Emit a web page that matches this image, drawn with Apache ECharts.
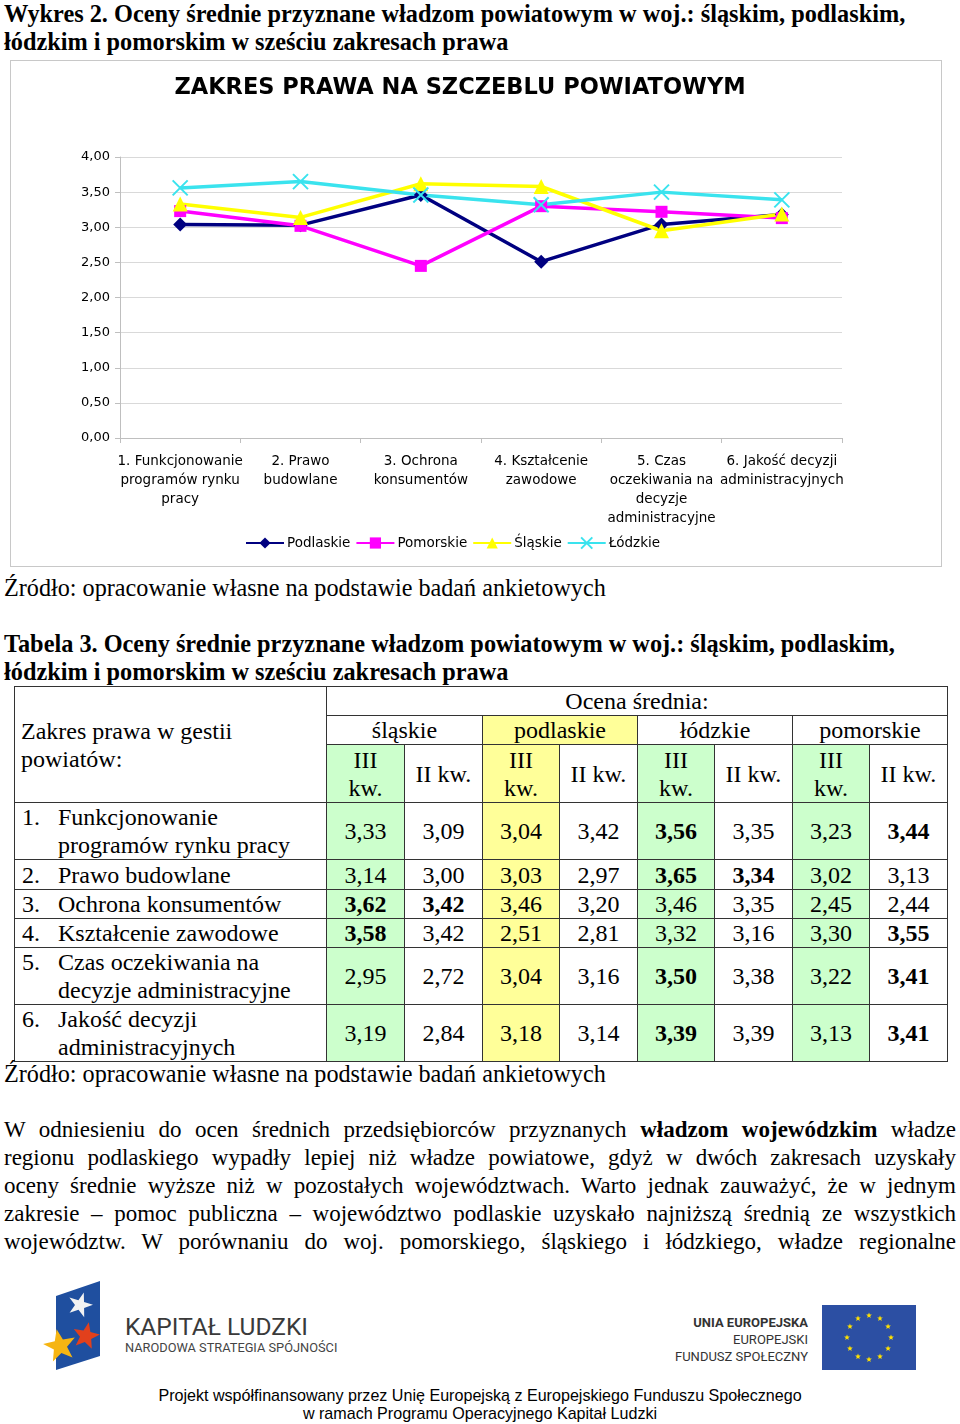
<!DOCTYPE html>
<html><head><meta charset="utf-8">
<script src="https://cdn.jsdelivr.net/npm/echarts@6/dist/echarts.min.js"></script>
<style>
html,body{margin:0;padding:0;background:#fff;}
body{width:960px;height:1424px;position:relative;overflow:hidden;font-family:'Liberation Serif','Times New Roman',serif;color:#000;}
.abs{position:absolute;white-space:nowrap;}
.cap{font-weight:bold;font-size:24.3px;line-height:28px;left:4px;}
.src{font-size:24.2px;line-height:28px;left:4px;}
#box{position:absolute;left:10px;top:60px;width:930px;height:505px;border:1px solid #c8c8c8;}
#chart{position:absolute;left:0;top:0;width:930px;height:505px;}
table{position:absolute;left:14px;top:686px;border-collapse:collapse;table-layout:fixed;font-size:24px;}
td{border:1px solid #333;padding:0;text-align:center;vertical-align:middle;line-height:28px;overflow:visible;white-space:nowrap;}
td.lbl{text-align:left;}
.g{background:#ccffcc;}
.y{background:#ffff99;}
.par{position:absolute;left:4px;width:952px;font-size:23px;line-height:28px;text-align:justify;text-align-last:justify;white-space:nowrap;}
.sans{font-family:'Liberation Sans',Arial,sans-serif;}
</style></head>
<body>
<div class="abs cap" style="top:0px">Wykres 2. Oceny średnie przyznane władzom powiatowym w woj.: śląskim, podlaskim,</div>
<div class="abs cap" style="top:28px">łódzkim i pomorskim w sześciu zakresach prawa</div>
<div id="box"><div id="chart"></div></div>
<div class="abs src" style="top:574px">Źródło: opracowanie własne na podstawie badań ankietowych</div>
<div class="abs cap" style="top:630px">Tabela 3. Oceny średnie przyznane władzom powiatowym w woj.: śląskim, podlaskim,</div>
<div class="abs cap" style="top:658px">łódzkim i pomorskim w sześciu zakresach prawa</div>
<table id="tab"></table>
<div class="abs src" style="top:1060px">Źródło: opracowanie własne na podstawie badań ankietowych</div>
<div id="para"></div>
<svg class="abs" style="left:0;top:1270px" width="960" height="110" id="logos"></svg>
<div class="abs" style="left:125px;top:1312px;font-size:24.5px;line-height:30px;color:#3a3a3a;font-family:Roboto,sans-serif;">KAPITAŁ LUDZKI</div>
<div class="abs" style="left:125px;top:1341px;font-size:12.8px;line-height:14px;color:#444;font-family:Roboto,sans-serif;">NARODOWA STRATEGIA SPÓJNOŚCI</div>
<div class="abs" style="right:152px;top:1314px;font-size:13px;line-height:17px;text-align:right;color:#333;font-family:Roboto,sans-serif;"><b>UNIA EUROPEJSKA</b><br>EUROPEJSKI<br>FUNDUSZ SPOŁECZNY</div>
<div class="abs sans" style="left:0;width:960px;text-align:center;top:1386px;font-size:16.1px;line-height:18px;">Projekt współfinansowany przez Unię Europejską z Europejskiego Funduszu Społecznego<br>w ramach Programu Operacyjnego Kapitał Ludzki</div>
<script>
// ---- chart data ----
const categories = ['1. Funkcjonowanie\nprogramów rynku\npracy','2. Prawo\nbudowlane','3. Ochrona\nkonsumentów','4. Kształcenie\nzawodowe','5. Czas\noczekiwania na\ndecyzje\nadministracyjne','6. Jakość decyzji\nadministracyjnych'];
const seriesNames = ['Podlaskie','Pomorskie','Śląskie','Łódzkie'];
// ---- table data (III kw. = chart values) ----
const rowLabels = [['1.','Funkcjonowanie\nprogramów rynku pracy'],['2.','Prawo budowlane'],['3.','Ochrona konsumentów'],['4.','Kształcenie zawodowe'],['5.','Czas oczekiwania na\ndecyzje administracyjne'],['6.','Jakość decyzji\nadministracyjnych']];
const regionLabels = ['śląskie','podlaskie','łódzkie','pomorskie'];
const quarterLabels = ['III\nkw.','II kw.'];
const slaskieIII = [3.33,3.14,3.62,3.58,2.95,3.19];
const slaskieII  = [3.09,3.00,3.42,3.42,2.72,2.84];
const podlaskieIII = [3.04,3.03,3.46,2.51,3.04,3.18];
const podlaskieII  = [3.42,2.97,3.20,2.81,3.16,3.14];
const lodzkieIII = [3.56,3.65,3.46,3.32,3.50,3.39];
const lodzkieII  = [3.35,3.34,3.35,3.16,3.38,3.39];
const pomorskieIII = [3.23,3.02,2.45,3.30,3.22,3.13];
const pomorskieII  = [3.44,3.13,2.44,3.55,3.41,3.41];
const boldCells = [[4,7],[4,5],[0,1],[0,7],[4,7],[4,7]];

const fmt = v => v.toFixed(2).replace('.', ',');

// ---- table ----
(function(){
  const tab = document.getElementById('tab');
  const colW = [312,78,78,77,78,77,78,77,78];
  let html = '<colgroup>' + colW.map(w=>'<col style="width:'+w+'px">').join('') + '</colgroup>';
  html += '<tr style="height:28px"><td class="lbl" rowspan="3" style="padding-left:6px">Zakres prawa w gestii<br>powiatów:</td><td colspan="8">Ocena średnia:</td></tr>';
  html += '<tr style="height:29px">' + regionLabels.map((r,i)=>'<td colspan="2"'+(i===1?' class="y"':'')+'>'+r+'</td>').join('') + '</tr>';
  html += '<tr style="height:58px">';
  for (let i=0;i<4;i++) quarterLabels.forEach((q,j)=>{ html += '<td'+(j===0?(i===1?' class="y"':' class="g"'):'')+'>'+q.replace('\n','<br>')+'</td>'; });
  html += '</tr>';
  const cols = [slaskieIII,slaskieII,podlaskieIII,podlaskieII,lodzkieIII,lodzkieII,pomorskieIII,pomorskieII];
  const rowH = [56,30,29,29,55,57];
  rowLabels.forEach((lab,r)=>{
    html += '<tr style="height:'+rowH[r]+'px"><td class="lbl"><div style="display:flex;padding-left:7px"><span style="width:36px;flex:none">'+lab[0]+'</span><span>'+lab[1].replace('\n','<br>')+'</span></div></td>';
    cols.forEach((c,ci)=>{
      const cls = ci%2===0 ? (ci===2?'y':'g') : '';
      const b = boldCells[r].indexOf(ci)>=0;
      html += '<td'+(cls?' class="'+cls+'"':'')+'>'+(b?'<b>'+fmt(c[r])+'</b>':fmt(c[r]))+'</td>';
    });
    html += '</tr>';
  });
  tab.innerHTML = html;
})();

// ---- paragraph ----
(function(){
  const lines = ['W odniesieniu do ocen średnich przedsiębiorców przyznanych <b>władzom wojewódzkim</b> władze',
    'regionu podlaskiego wypadły lepiej niż władze powiatowe, gdyż w dwóch zakresach uzyskały',
    'oceny średnie wyższe niż w pozostałych województwach. Warto jednak zauważyć, że w jednym',
    'zakresie – pomoc publiczna – województwo podlaskie uzyskało najniższą średnią ze wszystkich',
    'województw. W porównaniu do woj. pomorskiego, śląskiego i łódzkiego, władze regionalne'];
  const p = document.getElementById('para');
  p.innerHTML = lines.map((l,i)=>'<div class="par" style="top:'+(1116+i*28)+'px">'+l+'</div>').join('');
})();

// ---- logos ----
(function(){
  const s = document.getElementById('logos');
  function star(cx,cy,R,r,rot){let pts=[];for(let i=0;i<10;i++){const a=rot+Math.PI*i/5-Math.PI/2;const rr=i%2?r:R;pts.push((cx+rr*Math.cos(a)).toFixed(1)+','+(cy+rr*Math.sin(a)).toFixed(1));}return pts.join(' ');}
  let h = '<polygon points="56,26 100,11 100,86 56,100" fill="#1f4f9f"/>';
  h += '<polygon points="'+star(80,35,13,5,0.3)+'" fill="#f2f2f2"/>';
  h += '<polygon points="'+star(86,66,14,6,0.2)+'" fill="#e2401c"/>';
  h += '<polygon points="'+star(60,76,17,7,-0.2)+'" fill="#f6b512"/>';
  h += '<rect x="822" y="35" width="94" height="65" fill="#2c4fa3"/>';
  for (let i=0;i<12;i++){const a=i*Math.PI/6;h+='<polygon points="'+star(869+22*Math.cos(a),67.5+22*Math.sin(a),3,1.3,0)+'" fill="#ffe100"/>';}
  s.innerHTML = h;
})();

// ---- chart ----
const chart = echarts.init(document.getElementById('chart'), null, {renderer:'canvas'});
const chartValues = [podlaskieIII, pomorskieIII, slaskieIII, lodzkieIII];
const colors = ['#000080','#ff00ff','#ffff00','#3ae3ee'];
const symbols = ['diamond','rect','triangle','path://M0,0L10,10M10,0L0,10'];
const sizes = [14,12,15,15];
const font = 'DejaVu Sans';
chart.setOption({
  animation:false,
  title:{text:'ZAKRES PRAWA NA SZCZEBLU POWIATOWYM', left:449, top:16, textAlign:'center', padding:0,
    textStyle:{fontFamily:font, fontWeight:'bold', fontSize:22.5, color:'#000'}},
  legend:{data:seriesNames, top:475, left:234, itemWidth:38, itemHeight:14, itemGap:5, padding:0,
    textStyle:{fontFamily:font, fontSize:13.5, color:'#000', padding:[0,0,0,-2]}},
  grid:{left:109, top:96, width:722, height:281, containLabel:false, outerBoundsMode:'none'},
  xAxis:{type:'category', data:categories, boundaryGap:true,
    axisLine:{lineStyle:{color:'#bfbfbf', width:1}},
    axisTick:{show:true, length:5, lineStyle:{color:'#bfbfbf'}},
    axisLabel:{interval:0, hideOverlap:false, fontFamily:font, fontSize:13.5, lineHeight:19, color:'#000', margin:14}},
  yAxis:{type:'value', min:0, max:4, interval:0.5,
    axisLine:{show:true, lineStyle:{color:'#bfbfbf'}},
    axisTick:{show:true, length:5, lineStyle:{color:'#bfbfbf'}},
    splitLine:{lineStyle:{color:'#d9d9d9'}},
    axisLabel:{formatter:v=>fmt(v), fontFamily:font, fontSize:13, color:'#000', margin:10}},
  series: seriesNames.map((n,i)=>({
    name:n, type:'line', data:chartValues[i], symbol:symbols[i], symbolSize:sizes[i], showAllSymbol:true,
    lineStyle:{color:colors[i], width:3.5},
    itemStyle: i===3 ? {color:colors[i], borderColor:colors[i], borderWidth:2} : {color:colors[i]},
    emphasis:{disabled:true}, silent:true
  }))
});
</script>
</body></html>
